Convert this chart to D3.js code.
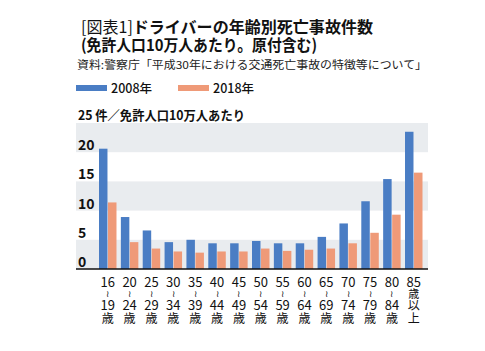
<!DOCTYPE html>
<html>
<head>
<meta charset="utf-8">
<script src="https://cdn.jsdelivr.net/npm/d3@7"></script>
<style>
  body { margin: 0; background: #fff; }
  svg { display: block; font-family: "Noto Sans CJK JP", "Noto Sans", sans-serif; }
</style>
</head>
<body>
<div class="container"></div>
<script>
const WIDTH = 485
	, HEIGHT = 351
	, LEFT = 76
	, RIGHT = 428
	, TOP = 123
	, BOTTOM = 269;

// age groups: [from, to] ; last one is 85歳以上
const ageFrom = ['16', '20', '25', '30', '35', '40', '45', '50', '55', '60', '65', '70', '75', '80', '85'];
const ageTo = ['19', '24', '29', '34', '39', '44', '49', '54', '59', '64', '69', '74', '79', '84', ''];
const series2008 = [20.6, 8.9, 6.6, 4.6, 5.0, 4.4, 4.4, 4.8, 4.4, 4.4, 5.5, 7.8, 11.6, 15.4, 23.5];
const series2018 = [11.4, 4.6, 3.5, 3.0, 2.8, 3.0, 3.0, 3.5, 3.1, 3.3, 3.5, 4.4, 6.2, 9.3, 16.5];
const seriesNames = ['2008年', '2018年'];
const yTicks = [0, 5, 10, 15, 20, 25];

const BLUE = '#4a7dc4', ORANGE = '#ef9a78', BAND = '#e9ecef';

var translate = function (x, y) {
	return "translate(" + x + "," + y + ")";
};

var svg = d3.select('.container').append('svg')
	.attr('width', WIDTH)
	.attr('height', HEIGHT);

// title block
var title = svg.append('text').attr('x', 81).attr('y', 33)
	.style('font-size', '16px').attr('fill', '#111')
	.attr('textLength', 292).attr('lengthAdjust', 'spacingAndGlyphs');
title.append('tspan').style('font-weight', 400).text('[図表1]');
title.append('tspan').style('font-weight', 700).text('ドライバーの年齢別死亡事故件数');
svg.append('text').attr('x', 81).attr('y', 51)
	.style('font-size', '16px').style('font-weight', 700).attr('fill', '#111')
	.attr('textLength', 236).attr('lengthAdjust', 'spacingAndGlyphs')
	.text('(免許人口10万人あたり。原付含む)');
svg.append('text').attr('x', 77).attr('y', 69)
	.style('font-size', '11px').attr('fill', '#222')
	.attr('textLength', 350).attr('lengthAdjust', 'spacingAndGlyphs')
	.text('資料:警察庁「平成30年における交通死亡事故の特徴等について」');

// legend
var legend = svg.append('g').selectAll('g').data(seriesNames).enter().append('g')
	.attr('transform', function (d, i) { return translate(76 + i * 102, 0); });
legend.append('rect')
	.attr('x', 0).attr('y', 85).attr('width', 31).attr('height', 6)
	.attr('fill', function (d, i) { return i == 0 ? BLUE : ORANGE; });
legend.append('text')
	.attr('x', 35).attr('y', 93)
	.style('font-size', '12.5px').style('font-weight', 500).attr('fill', '#111')
	.text(function (d) { return d; });

// scales
var _yScale = d3.scaleLinear().domain([0, 25]).range([BOTTOM, TOP]);
var _xScale = d3.scaleBand().domain(d3.range(ageFrom.length))
	.range([99, 422.5]).paddingInner(0.2).paddingOuter(0);
var _inner = d3.scaleBand().domain([0, 1]).range([0, _xScale.bandwidth()]).paddingInner(0.06);

// grey bands
var bands = [[0, 5], [10, 15], [20, 25]];
svg.append('g').selectAll('rect').data(bands).enter().append('rect')
	.attr('x', LEFT)
	.attr('width', RIGHT - LEFT)
	.attr('y', function (b) { return _yScale(b[1]); })
	.attr('height', function (b) { return _yScale(b[0]) - _yScale(b[1]); })
	.attr('fill', BAND);

// y tick labels
svg.append('g').selectAll('text').data(yTicks).enter().append('text')
	.attr('x', 78)
	.attr('y', function (d) { return _yScale(d) - 2; })
	.style('font-size', '14px').style('font-weight', 700).attr('fill', '#111')
	.text(function (d) { return d === 25 ? '' : d; });
svg.append('text').attr('x', 78).attr('y', _yScale(25) - 3)
	.style('font-size', '13px').style('font-weight', 700).attr('fill', '#111')
	.attr('textLength', 167).attr('lengthAdjust', 'spacingAndGlyphs')
	.text('25 件／免許人口10万人あたり');

// bars
var groups = svg.append('g').selectAll('g').data(ageFrom).enter().append('g')
	.attr('transform', function (d, i) { return translate(_xScale(i), 0); });
groups.selectAll('rect')
	.data(function (d, i) { return [series2008[i], series2018[i]]; })
	.enter().append('rect')
	.attr('x', function (v, j) { return _inner(j); })
	.attr('width', _inner.bandwidth())
	.attr('y', function (v) { return _yScale(v); })
	.attr('height', function (v) { return BOTTOM - _yScale(v); })
	.attr('fill', function (v, j) { return j == 0 ? BLUE : ORANGE; });

// axis line
svg.append('line')
	.attr('x1', LEFT).attr('x2', RIGHT)
	.attr('y1', BOTTOM).attr('y2', BOTTOM)
	.attr('stroke', '#111').attr('stroke-width', 1.5);

// x labels (stacked vertically)
var xl = svg.append('g').selectAll('g').data(ageFrom).enter().append('g')
	.attr('transform', function (d, i) { return translate(_xScale(i) + _xScale.bandwidth() / 2, 0); })
	.style('font-size', '13px').attr('fill', '#111').attr('text-anchor', 'middle');
xl.append('text').attr('y', 287).text(function (d) { return d; });
xl.each(function (d, i) {
	var g = d3.select(this);
	if (ageTo[i]) {
		g.append('text').attr('y', 297).style('font-size', '9px').text('≀');
		g.append('text').attr('y', 310).text(ageTo[i]);
		g.append('text').attr('y', 323).style('font-size', '12px').text('歳');
	} else {
		g.append('text').attr('y', 298).style('font-size', '11px').text('歳');
		g.append('text').attr('y', 310).style('font-size', '12px').text('以');
		g.append('text').attr('y', 323).style('font-size', '12px').text('上');
	}
});
</script>
</body>
</html>
